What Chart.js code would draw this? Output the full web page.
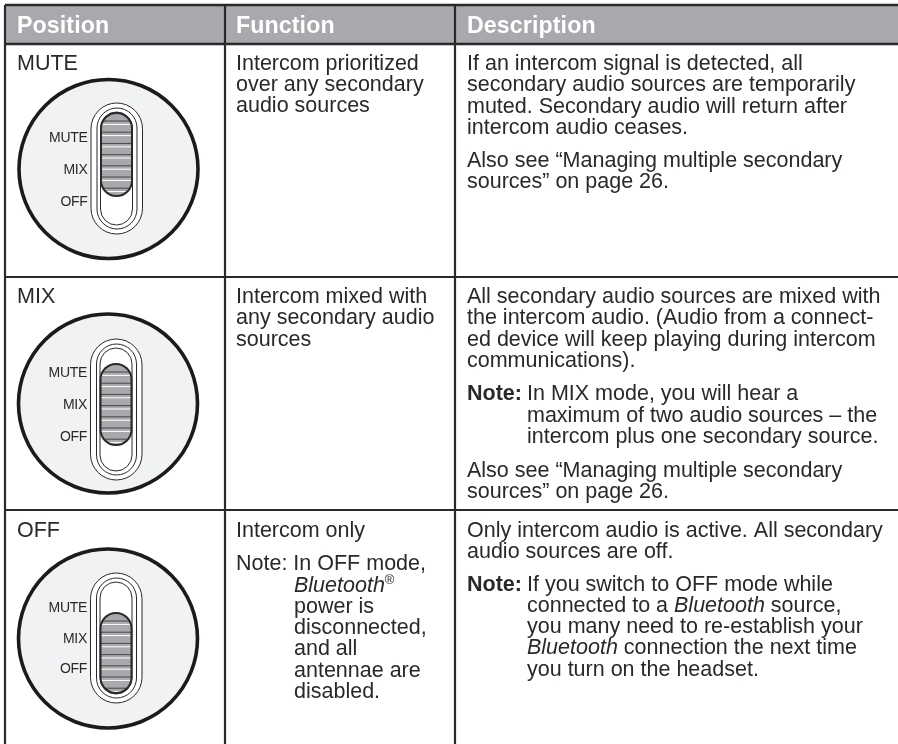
<!DOCTYPE html>
<html>
<head>
<meta charset="utf-8">
<style>html,body{margin:0;padding:0;background:#fff}canvas{display:block}</style>
<script src="https://cdn.jsdelivr.net/npm/chart.js@4"></script>
</head>
<body>
<canvas id="c" width="898" height="744"></canvas>
<script>
// ---- content ----
const headers = ['Position', 'Function', 'Description'];
const positions = ['MUTE', 'MIX', 'OFF'];
const switchLabels = ['MUTE', 'MIX', 'OFF'];
const functionText = [
  ['Intercom prioritized', 'over any secondary', 'audio sources'],
  ['Intercom mixed with', 'any secondary audio', 'sources'],
  ['Intercom only', 'Note: In OFF mode,', '*Bluetooth*^®^', 'power is', 'disconnected,', 'and all', 'antennae are', 'disabled.']
];
const descriptionText = [
  ['If an intercom signal is detected, all', 'secondary audio sources are temporarily', 'muted. Secondary audio will return after', 'intercom audio ceases.', 'Also see “Managing multiple secondary', 'sources” on page 26.'],
  ['All secondary audio sources are mixed with', 'the intercom audio. (Audio from a connect-', 'ed device will keep playing during intercom', 'communications).', '#Note:#', 'In MIX mode, you will hear a', 'maximum of two audio sources – the', 'intercom plus one secondary source.', 'Also see “Managing multiple secondary', 'sources” on page 26.'],
  ['Only intercom audio is active. All secondary', 'audio sources are off.', '#Note:#', 'If you switch to OFF mode while', 'connected to a *Bluetooth* source,', 'you many need to re-establish your', '*Bluetooth* connection the next time', 'you turn on the headset.']
];

// ---- layout (page coordinates, mapped through the chart's scales) ----
const W = 898, H = 744;
const INK = '#2b2829', HEAD = '#a7a9ac', DIAL = '#f1f2f3';
const colX = [5, 225, 455];
const textX = [17, 236, 467];
const rowY = [5, 44, 277, 510];
const funcBase = [[70,91,112],[303,324,346],[537,570,592,613,634,655,677,698]];
const funcX = [[0,0,0],[0,0,0],[0,0,58,58,58,58,58,58]];
const descBase = [[70,91,113,134,167,188],[303,324,346,367,400,400,422,443,477,498],[537,558,591,591,612,633,654,676]];
const descX = [[0,0,0,0,0,0],[0,0,0,0,0,60,60,60,0,0],[0,0,0,60,60,60,60,60]];
const posBase = [70,303,537];
const dials = [
  {cx:108.5, cy:169, pill:[103,234], knob:[113,196], lab:[142,174,206]},
  {cx:108,   cy:403.5, pill:[339,480], knob:[364,445], lab:[377,409,441]},
  {cx:108,   cy:638.5, pill:[573,703], knob:[613,693], lab:[612,643,673]}
];

function rich(ctx, s, x, y, size) {
  const parts = s.split(/([*#^][^*#^]+[*#^])/).filter(Boolean);
  let px = x;
  for (const p of parts) {
    const m = p[0];
    let t = p, style = '', sz = size, dy = 0;
    if ('*#^'.includes(m) && p[p.length-1] === m) {
      t = p.slice(1,-1);
      if (m === '*') style = 'italic ';
      if (m === '#') style = 'bold ';
      if (m === '^') { sz = size*0.6; dy = -size*0.36; }
    }
    ctx.font = `${style}${sz}px "Liberation Sans"`;
    ctx.fillText(t, px, y + dy);
    px += ctx.measureText(t).width;
  }
}
function pill(ctx, X, Y, x0, x1, y0, y1) {
  const a = X(x0), b = X(x1), t = Y(y0), e = Y(y1);
  ctx.beginPath();
  ctx.roundRect(a, t, b-a, e-t, (b-a)/2);
}

const tablePlugin = {
  id: 'tablePlugin',
  beforeDatasetsDraw(chart) {
    const ctx = chart.ctx, X = v => chart.scales.x.getPixelForValue(v), Y = v => chart.scales.y.getPixelForValue(v);
    ctx.save();
    ctx.fillStyle = HEAD;
    ctx.fillRect(X(colX[0]), Y(rowY[0]), X(W)-X(colX[0]), Y(rowY[1])-Y(rowY[0]));
    ctx.restore();
  },
  afterDatasetsDraw(chart) {
    const ctx = chart.ctx, X = v => chart.scales.x.getPixelForValue(v), Y = v => chart.scales.y.getPixelForValue(v);
    ctx.save();
    // switches
    dials.forEach((d) => {
      const c = d.cx;
      ctx.strokeStyle = INK; ctx.lineWidth = 1;
      ctx.fillStyle = '#fff';
      pill(ctx, X, Y, c-17.5, c+34, d.pill[0], d.pill[1]); ctx.fill(); ctx.stroke();
      pill(ctx, X, Y, c-11.5, c+28.5, d.pill[0]+5, d.pill[1]-5); ctx.stroke();
      pill(ctx, X, Y, c-8, c+24, d.pill[0]+9, d.pill[1]-9); ctx.stroke();
      // slider
      pill(ctx, X, Y, c-7.5, c+23.5, d.knob[0], d.knob[1]);
      ctx.fillStyle = HEAD; ctx.fill();
      ctx.save(); ctx.clip();
      for (let y = d.knob[0]+7.5; y < d.knob[1]; y += 11.2) {
        ctx.fillStyle = '#4a4748'; ctx.fillRect(X(c-8), Y(y), 33, 1);
        ctx.fillStyle = '#fff'; ctx.fillRect(X(c-8), Y(y+3.4), 33, 1);
      }
      ctx.restore();
      pill(ctx, X, Y, c-7.5, c+23.5, d.knob[0], d.knob[1]);
      ctx.lineWidth = 2; ctx.stroke();
      // side labels
      ctx.fillStyle = INK; ctx.textAlign = 'right'; ctx.textBaseline = 'alphabetic';
      ctx.letterSpacing = '-0.3px';
      ctx.font = '14px "Liberation Sans"';
      switchLabels.forEach((s, i) => ctx.fillText(s, X(c-21), Y(d.lab[i])));
    });
    // text
    ctx.textAlign = 'left';
    ctx.fillStyle = '#fff';
    ctx.letterSpacing = '0.1px';
    ctx.font = 'bold 23.2px "Liberation Sans"';
    headers.forEach((h, i) => ctx.fillText(h, X(textX[i]), Y(33)));
    ctx.fillStyle = INK;
    ctx.letterSpacing = '0px';
    const SZ = 21.5;
    positions.forEach((p, r) => {
      rich(ctx, p, X(textX[0]), Y(posBase[r]), SZ);
      functionText[r].forEach((s, i) => {
        rich(ctx, s, X(textX[1] + funcX[r][i]), Y(funcBase[r][i]), SZ);
      });
      descriptionText[r].forEach((s, i) => {
        rich(ctx, s, X(textX[2] + descX[r][i]), Y(descBase[r][i]), SZ);
      });
    });
    ctx.restore();
  }
};

const rule = (pts, w) => ({
  type: 'line', data: pts.map(([x, y]) => ({x, y})),
  borderColor: INK, borderWidth: w, pointRadius: 0, fill: false, order: 5
});
const datasets = [
  ...colX.map(x => rule([[x, rowY[0]], [x, H]], 2.2)),
  rule([[colX[0], rowY[0]], [W, rowY[0]]], 2.4),
  rule([[colX[0], rowY[1]], [W, rowY[1]]], 2.4),
  rule([[colX[0], rowY[2]], [W, rowY[2]]], 1.8),
  rule([[colX[0], rowY[3]], [W, rowY[3]]], 1.8),
  {
    type: 'scatter',
    data: dials.map(d => ({x: d.cx, y: d.cy})),
    pointRadius: 89.5, pointHoverRadius: 89.5,
    backgroundColor: DIAL, borderColor: '#1c1a1b', borderWidth: 3.6, order: 4
  }
];

new Chart(document.getElementById('c'), {
  type: 'scatter',
  data: { datasets },
  options: {
    responsive: false, animation: false, events: [],
    layout: { padding: 0, autoPadding: false },
    clip: false,
    plugins: { legend: {display:false}, tooltip: {enabled:false}, title:{display:false} },
    scales: {
      x: { type:'linear', min:0, max:W, display:false },
      y: { type:'linear', min:0, max:H, reverse:true, display:false }
    }
  },
  plugins: [tablePlugin]
});
</script>
</body>
</html>
